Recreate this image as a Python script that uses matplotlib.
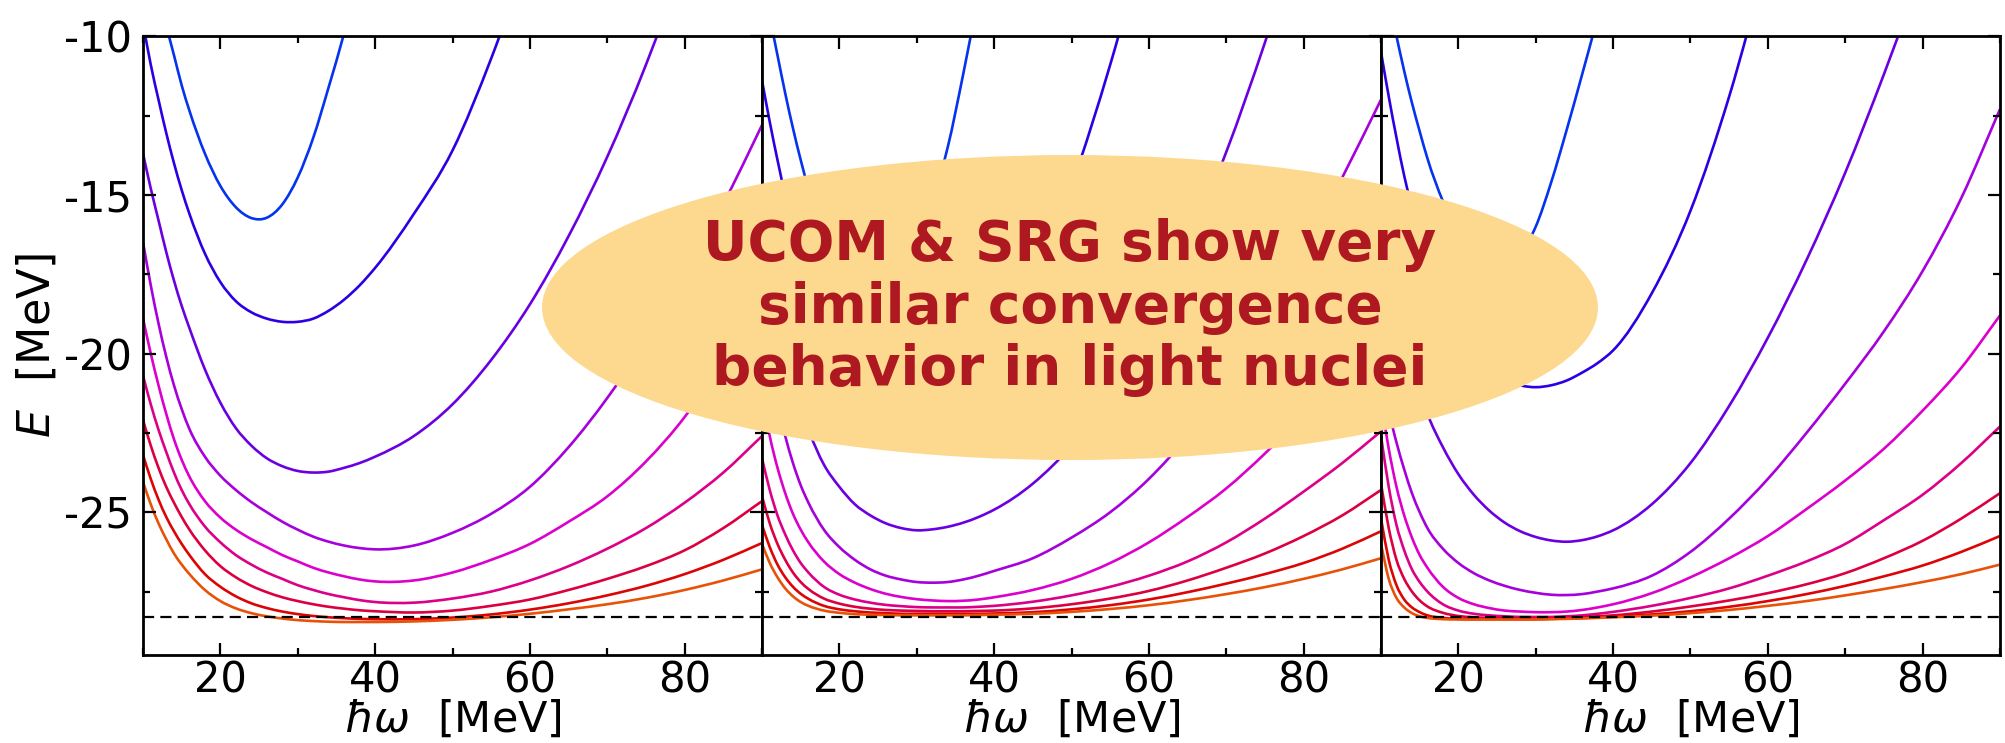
import matplotlib
matplotlib.use("Agg")
import matplotlib.pyplot as plt
from matplotlib.patches import Ellipse, PathPatch
from matplotlib.path import Path
from matplotlib.ticker import MultipleLocator
import numpy as np

nan = np.nan

# oscillator frequencies (MeV)
HW = [10, 11, 12, 13, 14, 15, 16, 18, 20, 22, 24, 26, 28, 30, 32, 34, 36, 38, 40,
      45, 50, 55, 60, 65, 70, 75, 80, 85, 90]

E_EXACT = -28.3

# one colour per model-space size, smallest first
COLORS = ["#0533ee", "#2c00e2", "#6a00e2", "#a600dc", "#dc00cc",
          "#dc0088", "#dc0040", "#dc0404", "#e85208"]

# ground-state energies, left panel
E_LEFT = [
    [nan, nan, -8.7, -9.67, -10.6, -11.55, -12.35, -13.7, -14.72, -15.39, -15.73, -15.72, -15.3, -14.45, -13.2, -11.6, -9.9, -8.0, nan,
     nan, nan, nan, nan, nan, nan, nan, nan, nan, nan],
    [-9.6, -10.9, -12.0, -13.05, -14.0, -14.85, -15.6, -16.85, -17.75, -18.35, -18.7, -18.9, -19.0, -19.0, -18.9, -18.65, -18.3, -17.85, -17.3,
     -15.6, -13.6, -10.7, -7.3, nan, nan, nan, nan, nan, nan],
    [-13.7, -14.8, -15.8, -16.8, -17.7, -18.5, -19.2, -20.5, -21.55, -22.35, -22.9, -23.3, -23.55, -23.7, -23.75, -23.72, -23.6, -23.45, -23.25,
     -22.6, -21.6, -20.2, -18.45, -16.3, -13.8, -10.9, -7.6, nan, nan],
    [-16.5, -17.85, -19.05, -20.1, -21.0, -21.75, -22.38, -23.25, -23.85, -24.3, -24.68, -25.0, -25.3, -25.55, -25.77, -25.93, -26.05, -26.13, -26.17,
     -26.05, -25.65, -25.05, -24.2, -22.95, -21.4, -19.6, -17.6, -15.3, -12.8],
    [-18.9, -20.0, -21.0, -21.9, -22.7, -23.35, -23.88, -24.65, -25.17, -25.55, -25.85, -26.1, -26.35, -26.55, -26.75, -26.9, -27.02, -27.12, -27.18,
     -27.15, -26.9, -26.5, -26.0, -25.3, -24.5, -23.4, -22.0, -20.2, -18.0],
    [-20.7, -21.6, -22.4, -23.1, -23.75, -24.3, -24.75, -25.45, -25.95, -26.35, -26.65, -26.9, -27.1, -27.3, -27.45, -27.58, -27.68, -27.77, -27.83,
     -27.85, -27.72, -27.5, -27.15, -26.7, -26.15, -25.5, -24.7, -23.75, -22.6],
    [-22.1, -22.9, -23.6, -24.2, -24.7, -25.15, -25.55, -26.2, -26.7, -27.05, -27.32, -27.52, -27.68, -27.8, -27.9, -27.98, -28.04, -28.09, -28.12,
     -28.16, -28.1, -27.95, -27.75, -27.45, -27.1, -26.7, -26.2, -25.5, -24.65],
    [-23.2, -23.95, -24.6, -25.15, -25.6, -26.0, -26.35, -26.95, -27.35, -27.65, -27.87, -28.02, -28.13, -28.21, -28.27, -28.31, -28.34, -28.36, -28.37,
     -28.37, -28.32, -28.22, -28.07, -27.87, -27.62, -27.32, -26.95, -26.5, -25.97],
    [-24.05, -24.75, -25.35, -25.85, -26.3, -26.65, -26.95, -27.45, -27.8, -28.03, -28.18, -28.28, -28.35, -28.4, -28.43, -28.45, -28.46, -28.46, -28.46,
     -28.44, -28.39, -28.31, -28.2, -28.06, -27.9, -27.7, -27.45, -27.15, -26.8],
]

# ground-state energies, middle panel
E_MID = [
    [nan, -9.4, -10.6, -11.8, -12.9, -13.9, -14.8, -16.2, -17.1, -17.65, -17.9, -17.85, -17.4, -16.5, -15.2, -13.5, -11.2, -8.7, nan,
     nan, nan, nan, nan, nan, nan, nan, nan, nan, nan],
    [-11.4, -12.7, -13.9, -15.0, -15.9, -16.7, -17.4, -18.6, -19.5, -20.2, -20.65, -20.95, -21.1, -21.1, -20.95, -20.7, -20.35, -19.9, -19.35,
     -17.6, -14.7, -10.9, -6.5, nan, nan, nan, nan, nan, nan],
    [-16.0, -17.5, -18.8, -19.9, -20.9, -21.7, -22.4, -23.5, -24.2, -24.75, -25.1, -25.35, -25.5, -25.57, -25.54, -25.46, -25.33, -25.15, -24.92,
     -24.1, -22.9, -21.3, -19.2, -16.6, -13.65, -10.2, -6.4, nan, nan],
    [-19.0, -20.4, -21.6, -22.6, -23.45, -24.15, -24.7, -25.55, -26.1, -26.5, -26.8, -27.0, -27.12, -27.2, -27.22, -27.2, -27.12, -27.0, -26.85,
     -26.45, -25.8, -25.0, -23.95, -22.6, -20.9, -18.9, -16.75, -14.45, -12.0],
    [-21.3, -22.6, -23.6, -24.4, -25.05, -25.55, -25.95, -26.55, -26.95, -27.22, -27.42, -27.57, -27.67, -27.74, -27.78, -27.8, -27.79, -27.75, -27.68,
     -27.45, -27.1, -26.6, -25.95, -25.15, -24.25, -23.15, -21.9, -20.4, -18.7],
    [-23.3, -24.3, -25.1, -25.7, -26.2, -26.6, -26.9, -27.35, -27.6, -27.75, -27.85, -27.92, -27.96, -27.99, -28.0, -28.0, -28.0, -27.98, -27.95,
     -27.82, -27.62, -27.35, -27.0, -26.55, -25.95, -25.2, -24.35, -23.45, -22.45],
    [-24.5, -25.35, -26.0, -26.5, -26.9, -27.2, -27.42, -27.72, -27.88, -27.98, -28.04, -28.08, -28.1, -28.11, -28.12, -28.12, -28.12, -28.11, -28.1,
     -28.03, -27.9, -27.72, -27.48, -27.15, -26.75, -26.3, -25.75, -25.1, -24.3],
    [-25.4, -26.1, -26.65, -27.05, -27.35, -27.57, -27.73, -27.95, -28.06, -28.12, -28.16, -28.18, -28.2, -28.2, -28.2, -28.2, -28.2, -28.2, -28.19,
     -28.15, -28.06, -27.93, -27.75, -27.52, -27.25, -26.95, -26.6, -26.15, -25.6],
    [-26.0, -26.6, -27.05, -27.4, -27.65, -27.83, -27.95, -28.1, -28.17, -28.21, -28.23, -28.24, -28.25, -28.25, -28.25, -28.25, -28.25, -28.24, -28.23,
     -28.2, -28.14, -28.05, -27.93, -27.77, -27.58, -27.36, -27.1, -26.8, -26.45],
]

# ground-state energies, right panel
E_RIGHT = [
    [nan, -8.9, -10.0, -11.1, -12.1, -13.0, -13.85, -15.2, -16.2, -16.85, -17.15, -17.15, -16.85, -16.0, -14.6, -12.95, -11.2, -9.4, -7.5,
     nan, nan, nan, nan, nan, nan, nan, nan, nan, nan],
    [-10.5, -11.9, -13.2, -14.4, -15.4, -16.3, -17.05, -18.3, -19.2, -19.9, -20.45, -20.8, -21.0, -21.06, -21.0, -20.85, -20.6, -20.3, -19.9,
     -18.1, -15.5, -11.9, -7.5, nan, nan, nan, nan, nan, nan],
    [-16.0, -17.3, -18.5, -19.5, -20.4, -21.2, -21.9, -22.95, -23.8, -24.45, -24.95, -25.33, -25.6, -25.78, -25.89, -25.93, -25.88, -25.76, -25.57,
     -24.75, -23.45, -21.65, -19.5, -17.05, -14.3, -11.2, -7.9, nan, nan],
    [-20.5, -21.8, -22.8, -23.65, -24.4, -25.0, -25.5, -26.15, -26.6, -26.92, -27.15, -27.32, -27.45, -27.54, -27.6, -27.61, -27.58, -27.5, -27.4,
     -27.0, -26.25, -25.2, -23.95, -22.5, -20.95, -19.3, -17.4, -15.1, -12.3],
    [-21.5, -23.0, -24.2, -25.1, -25.8, -26.35, -26.75, -27.35, -27.7, -27.9, -28.02, -28.1, -28.13, -28.15, -28.15, -28.13, -28.08, -28.0, -27.9,
     -27.55, -27.05, -26.45, -25.75, -24.9, -24.0, -23.0, -21.8, -20.45, -18.8],
    [-22.6, -24.2, -25.4, -26.2, -26.8, -27.2, -27.5, -27.9, -28.1, -28.2, -28.25, -28.28, -28.3, -28.3, -28.3, -28.28, -28.25, -28.2, -28.14,
     -27.95, -27.7, -27.4, -27.0, -26.55, -26.0, -25.25, -24.45, -23.45, -22.3],
    [-24.1, -25.5, -26.5, -27.1, -27.5, -27.78, -27.97, -28.17, -28.27, -28.31, -28.33, -28.34, -28.34, -28.34, -28.34, -28.33, -28.31, -28.28, -28.25,
     -28.13, -27.97, -27.78, -27.55, -27.27, -26.92, -26.45, -25.9, -25.2, -24.4],
    [-25.2, -26.5, -27.3, -27.75, -28.0, -28.15, -28.25, -28.33, -28.36, -28.37, -28.37, -28.37, -28.37, -28.37, -28.36, -28.35, -28.33, -28.31, -28.29,
     -28.22, -28.12, -27.98, -27.8, -27.58, -27.32, -27.02, -26.68, -26.25, -25.75],
    [-26.0, -27.1, -27.7, -28.0, -28.18, -28.28, -28.33, -28.37, -28.38, -28.38, -28.38, -28.38, -28.38, -28.38, -28.37, -28.36, -28.35, -28.33, -28.31,
     -28.26, -28.18, -28.08, -27.95, -27.8, -27.62, -27.42, -27.2, -26.95, -26.65],
]

NOTE = "UCOM & SRG show very\nsimilar convergence\nbehavior in light nuclei"


def smooth_path(x, y):
    """Cubic Hermite (Bezier) path through the finite points of one curve."""
    x = np.asarray(x, float)
    y = np.asarray(y, float)
    ok = np.isfinite(y)
    x, y = x[ok], y[ok]
    h = np.diff(x)
    s = np.diff(y) / h
    m = np.empty_like(y)
    m[0], m[-1] = s[0], s[-1]
    m[1:-1] = (s[:-1] * h[1:] + s[1:] * h[:-1]) / (h[:-1] + h[1:])
    verts = [(x[0], y[0])]
    codes = [Path.MOVETO]
    for i in range(len(h)):
        d = h[i] / 3.0
        verts += [(x[i] + d, y[i] + m[i] * d),
                  (x[i + 1] - d, y[i + 1] - m[i + 1] * d),
                  (x[i + 1], y[i + 1])]
        codes += [Path.CURVE4] * 3
    return Path(verts, codes)


plt.rcParams["axes.unicode_minus"] = False
plt.rcParams["mathtext.fontset"] = "dejavusans"

fig, axes = plt.subplots(1, 3, figsize=(20.06, 7.43), dpi=100, sharey=True)
fig.subplots_adjust(left=0.0713, right=0.997, top=0.9513, bottom=0.1184, wspace=0)

for ax, panel in zip(axes, [E_LEFT, E_MID, E_RIGHT]):
    for energies, col in zip(panel, COLORS):
        ax.add_patch(PathPatch(smooth_path(HW, energies), fill=False,
                               edgecolor=col, lw=1.9))
    ax.axhline(E_EXACT, color="black", lw=1.6, ls=(0, (5, 2.8)))

    ax.set_xlim(10, 90)
    ax.set_ylim(-29.5, -10)
    ax.xaxis.set_major_locator(MultipleLocator(20))
    ax.xaxis.set_minor_locator(MultipleLocator(10))
    ax.yaxis.set_major_locator(MultipleLocator(5))
    ax.yaxis.set_minor_locator(MultipleLocator(2.5))
    ax.tick_params(which="both", direction="in", top=True, right=True,
                   width=1.6, labelsize=30)
    ax.tick_params(axis="y", pad=8)
    ax.tick_params(axis="x", pad=3.5)
    ax.tick_params(which="major", length=9)
    ax.tick_params(which="minor", length=5)
    for sp in ax.spines.values():
        sp.set_linewidth(2)
    ax.set_xlabel(r"$\hbar\omega$  [MeV]", fontsize=31, labelpad=-2)

axes[0].set_ylabel(r"$E$  [MeV]", fontsize=32, labelpad=4)

# highlighted remark across the panels
bubble = Ellipse((0.5334, 0.5861), 0.5264, 0.4105, transform=fig.transFigure,
                 facecolor="#fdd98f", edgecolor="none", zorder=5)
fig.add_artist(bubble)
fig.text(0.5334, 0.5861, NOTE, ha="center", va="center", fontsize=39.5,
         fontweight="bold", color="#ae1820", linespacing=1.2, zorder=6)

fig.savefig("out.png", dpi=100)
